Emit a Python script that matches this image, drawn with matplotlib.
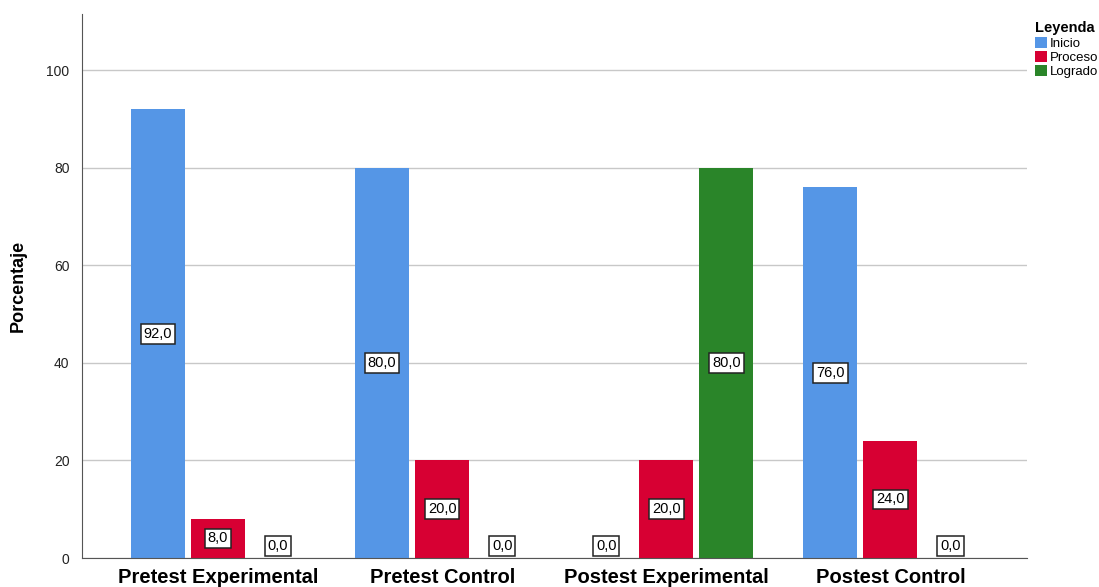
import matplotlib.pyplot as plt
import numpy as np

plt.rcParams["font.family"] = ["Liberation Sans", "DejaVu Sans"]

groups = ["Pretest Experimental", "Pretest Control", "Postest Experimental", "Postest Control"]
levels = ["Inicio", "Proceso", "Logrado"]
inicio = [92.0, 80.0, 0.0, 76.0]
proceso = [8.0, 20.0, 20.0, 24.0]
logrado = [0.0, 0.0, 80.0, 0.0]
colors = ["#5596E6", "#D70033", "#2A8529"]

fig = plt.figure(figsize=(10.99, 5.87), dpi=100)
ax = fig.add_axes([0.0746, 0.0494, 0.86, 0.9266])

x = np.arange(len(groups))
step = 60 / 224
width = 54 / 224

for i, (name, vals) in enumerate(zip(levels, [inicio, proceso, logrado])):
    pos = x + (i - 1) * step
    ax.bar(pos, vals, width=width, color=colors[i], label=name, zorder=2)
    for p, v in zip(pos, vals):
        ypos = v / 2 if v > 0 else 2.5
        ax.text(p, ypos, f"{v:.1f}".replace(".", ","), ha="center", va="center",
                fontsize=10.5, zorder=3,
                bbox=dict(boxstyle="square,pad=0.2", fc="white", ec="#222222", lw=1.1))

ax.set_xlim(-0.607, 3.61)
ax.set_ylim(0, 111.5)
ax.set_yticks([0, 20, 40, 60, 80, 100])
ax.yaxis.grid(True, color="#c8c8c8", lw=1, zorder=0)
ax.set_xticks(x)
ax.set_xticklabels(groups, fontsize=14.5, fontweight="bold")
ax.tick_params(axis="x", length=0, pad=7)
ax.tick_params(axis="y", length=0, labelsize=10, pad=9, labelcolor="#222222")
ax.set_ylabel("Porcentaje", fontsize=13, fontweight="bold", labelpad=14)

for s in ["top", "right"]:
    ax.spines[s].set_visible(False)
ax.spines["left"].set_color("#555555")
ax.spines["bottom"].set_color("#555555")

leg = fig.legend(loc="upper left", bbox_to_anchor=(0.936, 0.975), title="Leyenda",
                 frameon=False, fontsize=9.5, handlelength=0.9, handleheight=0.9,
                 handletextpad=0.2, labelspacing=0.1, borderpad=0, alignment="left")
leg.get_title().set_fontweight("bold")
leg.get_title().set_fontsize(10.5)

fig.savefig("out.png", dpi=100)
